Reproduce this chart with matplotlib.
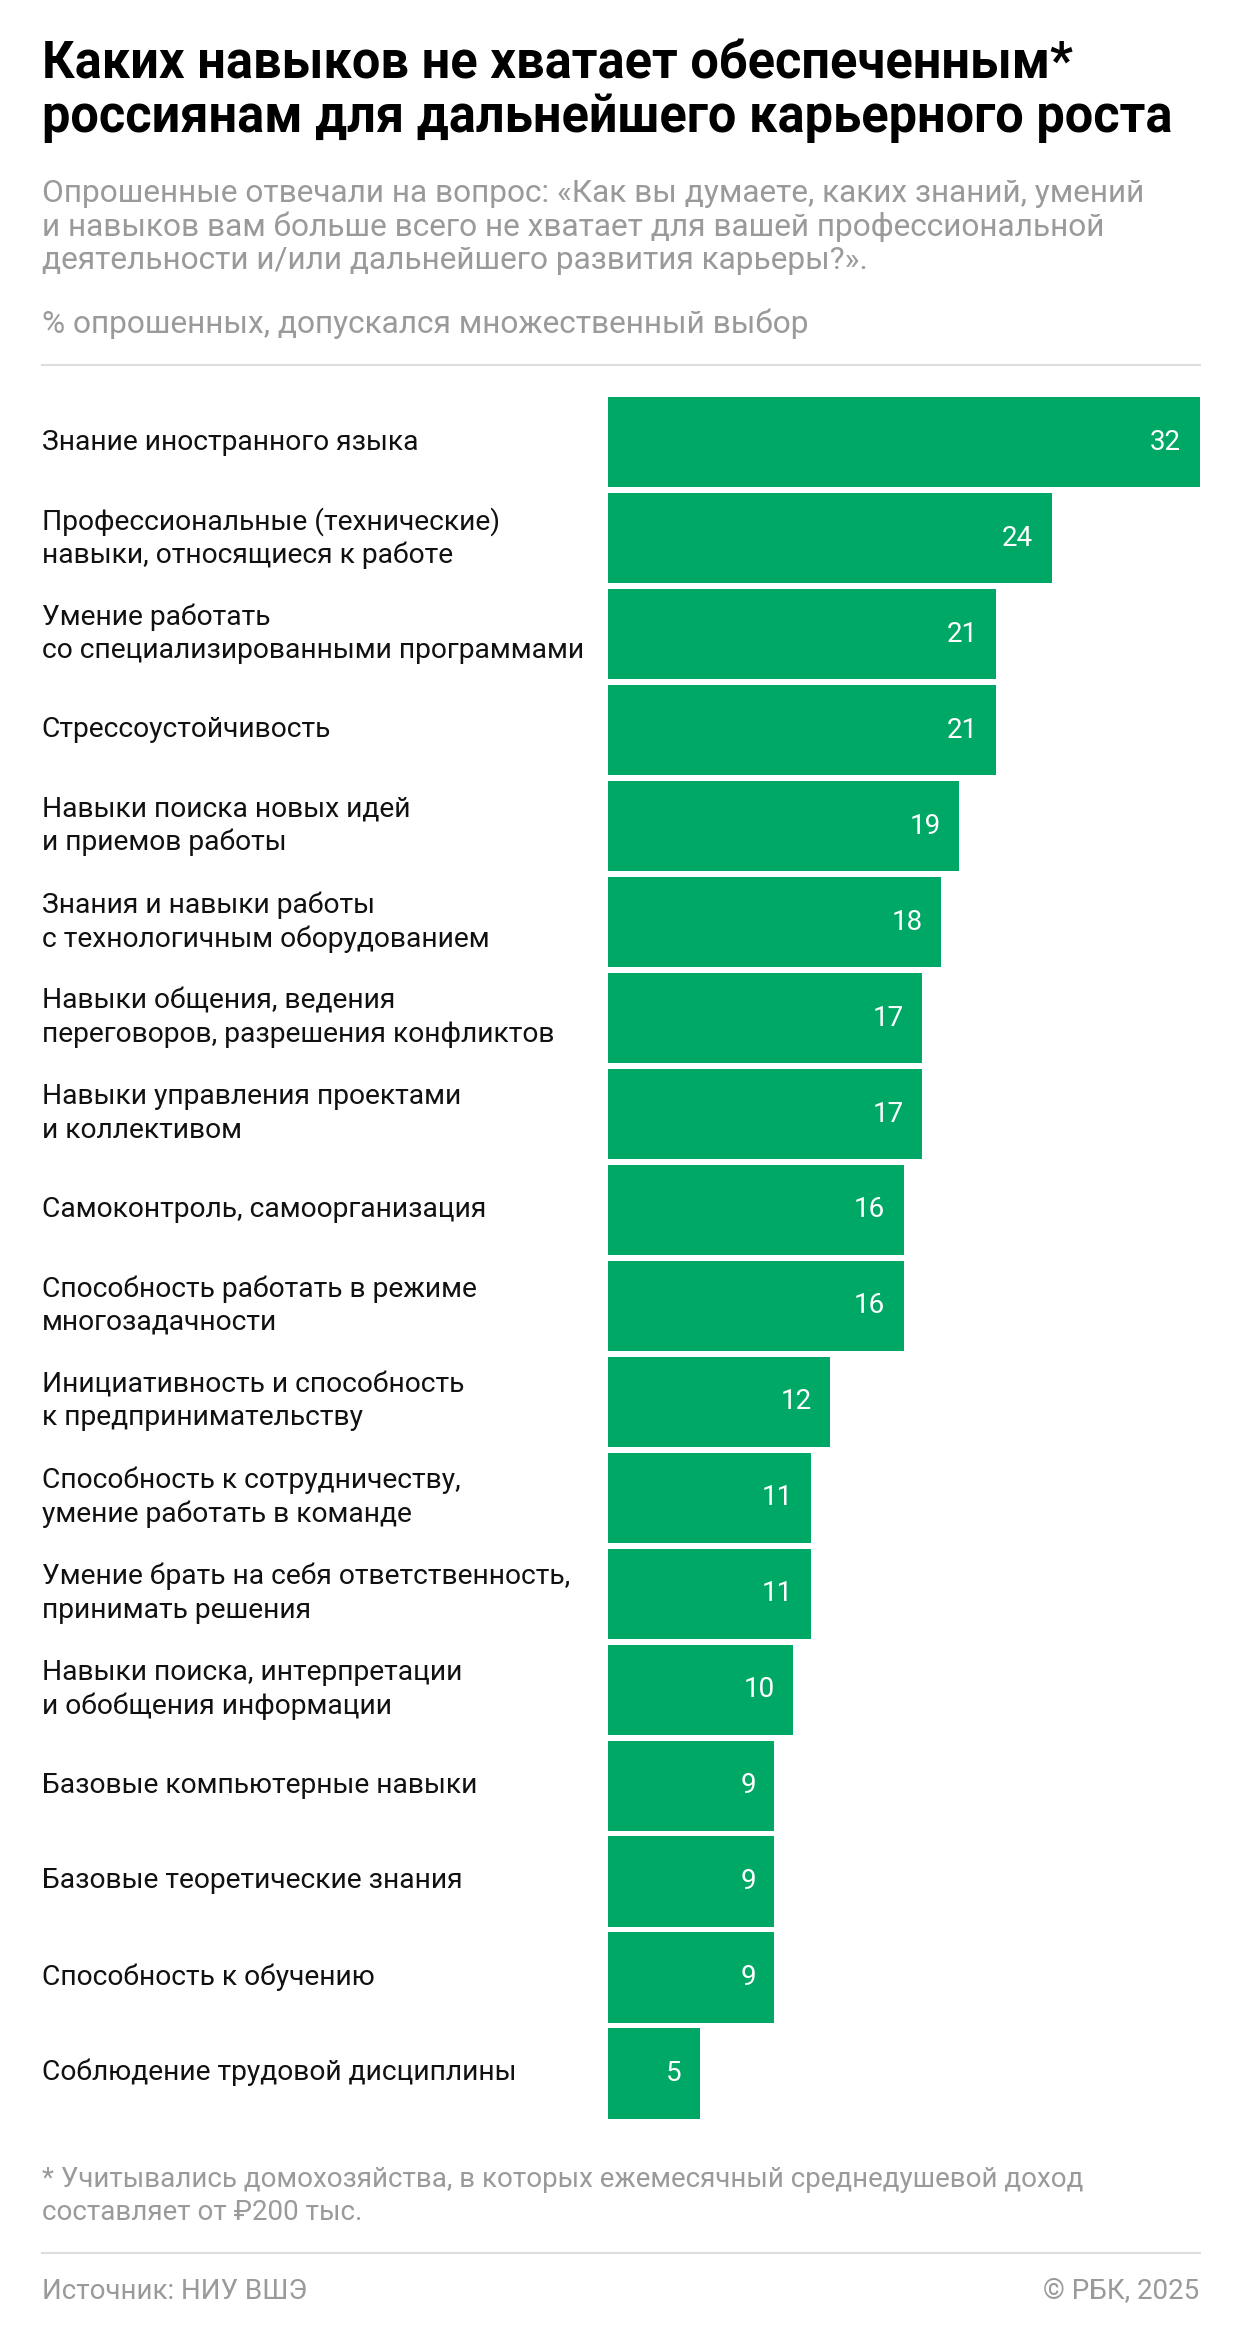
import matplotlib
matplotlib.use("Agg")
import matplotlib.pyplot as plt

skills = [
    "Знание иностранного языка",
    "Профессиональные (технические)\nнавыки, относящиеся к работе",
    "Умение работать\nсо специализированными программами",
    "Стрессоустойчивость",
    "Навыки поиска новых идей\nи приемов работы",
    "Знания и навыки работы\nс технологичным оборудованием",
    "Навыки общения, ведения\nпереговоров, разрешения конфликтов",
    "Навыки управления проектами\nи коллективом",
    "Самоконтроль, самоорганизация",
    "Способность работать в режиме\nмногозадачности",
    "Инициативность и способность\nк предпринимательству",
    "Способность к сотрудничеству,\nумение работать в команде",
    "Умение брать на себя ответственность,\nпринимать решения",
    "Навыки поиска, интерпретации\nи обобщения информации",
    "Базовые компьютерные навыки",
    "Базовые теоретические знания",
    "Способность к обучению",
    "Соблюдение трудовой дисциплины",
]
values = [32, 24, 21, 21, 19, 18, 17, 17, 16, 16, 12, 11, 11, 10, 9, 9, 9, 5]

W, H = 1240, 2343
s = W / 830.0  # reference preview scale
fig = plt.figure(figsize=(W / 100, H / 100), dpi=100)
plt.rcParams["font.family"] = "Roboto"

def fy(y):
    return 1 - y * s / H

def fx(x):
    return x * s / W

green = "#00a865"
grey = "#9a9a9a"

ax = fig.add_axes([fx(407), fy(1420), fx(803) - fx(407), fy(264) - fy(1420)])
ypos = list(range(len(values)))
ax.barh(ypos, values, height=0.94, color=green)
ax.set_xlim(0, 32)
ax.set_ylim(len(values) - 0.5, -0.5)
ax.axis("off")
for i, v in enumerate(values):
    ax.text(v - 1.0, i, str(v), ha="right", va="center", color="white", fontsize=20)

for i, lab in enumerate(skills):
    yc = 296 + i * 64.2
    fig.text(fx(28), fy(yc), lab, ha="left", va="center", fontsize=20.3,
             color="#111111", linespacing=1.3)

fig.text(fx(28), fy(61), "Каких навыков не хватает обеспеченным*\nроссиянам для дальнейшего карьерного роста",
         ha="left", va="center", fontsize=36.4, fontweight="bold", color="black", linespacing=1.08)
fig.text(fx(28), fy(152), "Опрошенные отвечали на вопрос: «Как вы думаете, каких знаний, умений\n"
         "и навыков вам больше всего не хватает для вашей профессиональной\n"
         "деятельности и/или дальнейшего развития карьеры?».",
         ha="left", va="center", fontsize=22.8, color=grey, linespacing=1.15)
fig.text(fx(28), fy(217), "% опрошенных, допускался множественный выбор",
         ha="left", va="center", fontsize=22.8, color=grey)

for yl in (244, 1508):
    fig.add_artist(plt.Line2D([fx(28), fx(803)], [fy(yl), fy(yl)], color="#dddddd", lw=1.5))

fig.text(fx(28), fy(1470), "* Учитывались домохозяйства, в которых ежемесячный среднедушевой доход\n"
         "составляет от ₽200 тыс.", ha="left", va="center", fontsize=20, color=grey, linespacing=1.3)
fig.text(fx(28), fy(1534), "Источник: НИУ ВШЭ", ha="left", va="center", fontsize=20, color=grey)
fig.text(fx(803), fy(1534), "© РБК, 2025", ha="right", va="center", fontsize=20, color=grey)

fig.savefig("out.png", dpi=100, facecolor="white")
